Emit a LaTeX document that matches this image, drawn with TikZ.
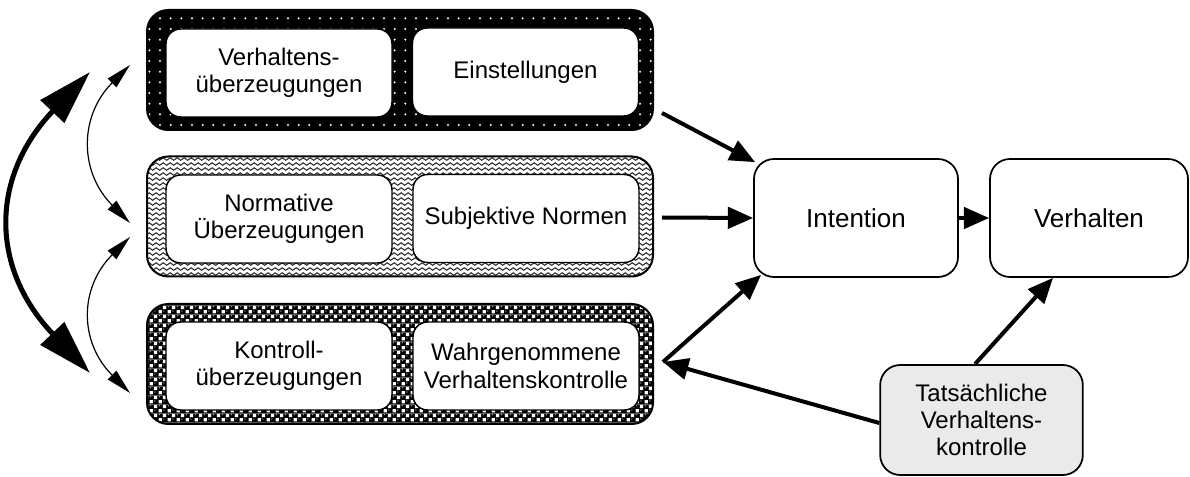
\documentclass[tikz,border=0pt]{standalone}
\usepackage{fontspec}
\setmainfont{Liberation Sans}
\usetikzlibrary{arrows.meta,patterns.meta,calc}

% rows of small chevrons
\pgfdeclarepattern{
  name=chevronrows,
  type=uncolored,
  bottom left={\pgfpoint{0pt}{0pt}},
  top right={\pgfpoint{5pt}{3.6pt}},
  tile size={\pgfpoint{5pt}{3.6pt}},
  code={
    \pgfsetlinewidth{0.8pt}
    \pgfpathmoveto{\pgfpoint{-0.5pt}{0.4pt}}
    \pgfpathlineto{\pgfpoint{2.5pt}{2.5pt}}
    \pgfpathlineto{\pgfpoint{5.5pt}{0.4pt}}
    \pgfusepath{stroke}
  }
}

% black ground with white checker squares and shiny ball highlights
\pgfdeclarepattern{
  name=ballchecker,
  type=colored,
  bottom left={\pgfpoint{0pt}{0pt}},
  top right={\pgfpoint{7pt}{7pt}},
  tile size={\pgfpoint{7pt}{7pt}},
  code={
    \pgfsetfillcolor{black}
    \pgfpathrectangle{\pgfpointorigin}{\pgfpoint{7pt}{7pt}}
    \pgfusepath{fill}
    \pgfsetfillcolor{white}
    \pgfpathrectangle{\pgfpoint{0.5pt}{0.5pt}}{\pgfpoint{2.6pt}{2.6pt}}
    \pgfpathrectangle{\pgfpoint{4pt}{4pt}}{\pgfpoint{2.6pt}{2.6pt}}
    \pgfusepath{fill}
    \pgfsetfillcolor{black!40}
    \pgfpathcircle{\pgfpoint{4.7pt}{2.4pt}}{0.6pt}
    \pgfpathcircle{\pgfpoint{1.2pt}{5.9pt}}{0.6pt}
    \pgfusepath{fill}
  }
}

\definecolor{boxgray}{HTML}{EAEAEA}

\tikzset{
  txt/.style={font=\fontsize{18}{20.5}\selectfont, align=center},
  bigtxt/.style={font=\fontsize{19.5}{22}\selectfont, align=center},
  group/.style={draw=black, line width=1.5pt, rounded corners=16pt,
    minimum width=379.5pt, minimum height=90pt, inner sep=0pt},
  dotgroup/.style={group, preaction={fill=black},
    pattern={Dots[radius=0.85pt,distance=8pt]}, pattern color=white},
  chevgroup/.style={group, preaction={fill=white},
    pattern=chevronrows, pattern color=black!85},
  ballgroup/.style={group, pattern=ballchecker},
  inbox/.style={txt, draw=black, line width=1.1pt, fill=white,
    rounded corners=11pt, minimum width=169.5pt, minimum height=66pt, inner sep=2pt},
  mainbox/.style={bigtxt, draw=black, line width=1.3pt, fill=white,
    rounded corners=15pt, minimum height=88.5pt, inner sep=2pt},
  sidebox/.style={txt, draw=black, line width=1.3pt, fill=boxgray,
    rounded corners=15pt, minimum width=152pt, minimum height=82.5pt, inner sep=2pt},
  bigarrow/.style={line width=3pt, -{Triangle[length=19pt,width=16pt]}},
  loopthick/.style={line width=3.8pt,
    {Triangle[length=41pt,width=24pt]}-{Triangle[length=41pt,width=24pt]}},
  loopthin/.style={line width=0.9pt,
    {Triangle[length=19pt,width=9pt]}-{Triangle[length=19pt,width=9pt]}}
}

\begin{document}
\begin{tikzpicture}[x=0.75pt, y=-0.75pt]
\useasboundingbox (0,0) rectangle (1190,477);

% three belief / attitude groups
\node[dotgroup]  (g1) at (400,70)    {};
\node[chevgroup] (g2) at (400,216.5) {};
\node[ballgroup] (g3) at (400,364)   {};

\node[inbox] (vb)  at (279,73)    {Verhaltens-\\überzeugungen};
\node[inbox] (ein) at (525.5,72)  {Einstellungen};
\node[inbox] (nb)  at (279,219)   {Normative\\Überzeugungen};
\node[inbox] (sn)  at (526,218.5) {Subjektive Normen};
\node[inbox] (kb)  at (279,366)   {Kontroll-\\überzeugungen};
\node[inbox] (wvk) at (526,366)   {Wahrgenommene\\Verhaltenskontrolle};

% intention, behaviour and actual control
\node[mainbox, minimum width=153pt]   (int)  at (856,218)  {Intention};
\node[mainbox, minimum width=148.5pt] (verh) at (1089,218) {Verhalten};
\node[sidebox] (tat) at (981.5,420) {Tatsächliche\\Verhaltens-\\kontrolle};

% main paths
\coordinate (m) at ($(g3.east)+(9,-2)$);
\draw[bigarrow] ($(g1.east)+(8,43)$) -- ($(int.north west)+(2,4)$);
\draw[bigarrow] ($(g2.east)+(8,1)$) -- (int.west);
\draw[bigarrow] (m) -- ($(int.south west)+(8,-3)$);
\draw[bigarrow] ($(tat.west)+(0,3)$) -- (m);
\draw[bigarrow] ($(tat.north)+(-6.5,0)$) -- ($(verh.south)+(-36,0)$);
\draw[bigarrow] (int.east) -- (verh.west);

% correlations between the belief groups
\coordinate (ta) at (90,72);
\coordinate (tb) at (90,373);
\coordinate (a1) at (130,65);
\coordinate (a2) at (130,223);
\coordinate (b1) at (130,237);
\coordinate (b2) at (130,393);
\draw[loopthick] (tb) .. controls (-10,268) and (-10,177) .. (ta);
\draw[loopthin] (a2) .. controls (79,172) and (79,116) .. (a1);
\draw[loopthin] (b2) .. controls (79,342) and (79,288) .. (b1);
\end{tikzpicture}
\end{document}
